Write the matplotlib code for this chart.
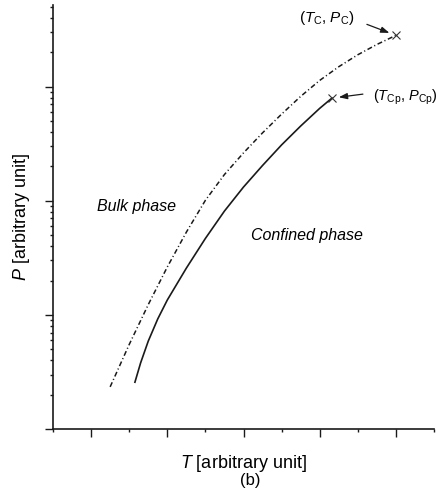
import numpy as np
import matplotlib
matplotlib.use("Agg")
import matplotlib.pyplot as plt
from matplotlib.ticker import LogLocator, MultipleLocator, NullFormatter

plt.rcParams['font.family'] = ['Liberation Sans', 'DejaVu Sans']
plt.rcParams['mathtext.fontset'] = 'custom'
plt.rcParams['mathtext.rm'] = 'Liberation Sans'
plt.rcParams['mathtext.it'] = 'Liberation Sans:italic'
plt.rcParams['lines.scale_dashes'] = False

# bulk coexistence curve (dash-dot)
bulk_T = [1.5, 2.0, 2.5, 3.0, 3.5, 4.0, 4.5, 5.0, 5.5, 6.0, 6.5, 7.0, 7.5, 8.0, 8.5, 9.0]
bulk_P = [2.34, 5.50, 12.3, 26.3, 53.1, 101, 170, 263, 394, 575, 822, 1135, 1496, 1905, 2344, 2818]

# confined coexistence curve (solid)
conf_T = [2.15, 2.3, 2.5, 2.75, 3.0, 3.5, 4.0, 4.5, 5.0, 5.5, 6.0, 6.5, 7.0, 7.32]
conf_P = [2.57, 3.80, 5.89, 9.23, 13.5, 25.7, 46.8, 81.3, 132, 204, 309, 452, 646, 794]

# critical points = curve ends
Tc, Pc = bulk_T[-1], bulk_P[-1]
Tcp, Pcp = conf_T[-1], conf_P[-1]

fig = plt.figure(figsize=(4.36, 4.91), dpi=100)
ax = fig.add_axes([53 / 436, 1 - 429 / 491, 381 / 436, 424 / 491])

ink = '#1a1a1a'
ax.plot(bulk_T, bulk_P, color=ink, lw=1.1, linestyle=(0, (3.6, 1.9, 0.8, 1.9)))
ax.plot(conf_T, conf_P, color=ink, lw=1.2)
ax.plot([Tc, Tcp], [Pc, Pcp], 'x', color='#333333', ms=6, mew=0.8)

ax.set_yscale('log')
ax.set_xlim(0, 10)
ax.set_ylim(1, 5200)

ax.xaxis.set_major_locator(MultipleLocator(2, offset=1))
ax.xaxis.set_minor_locator(MultipleLocator(2))
ax.yaxis.set_major_locator(LogLocator(base=10, numticks=10))
ax.yaxis.set_minor_locator(LogLocator(base=10, subs=np.arange(2, 10), numticks=20))
ax.xaxis.set_major_formatter(NullFormatter())
ax.yaxis.set_major_formatter(NullFormatter())
ax.yaxis.set_minor_formatter(NullFormatter())

for s in ['top', 'right']:
    ax.spines[s].set_visible(False)
for s in ['left', 'bottom']:
    ax.spines[s].set_linewidth(1.2)
    ax.spines[s].set_color(ink)
ax.tick_params(which='major', direction='out', length=5.5, width=1.0, color=ink)
ax.tick_params(which='minor', direction='out', length=2.5, width=1.0, color=ink)

ax.set_xlabel('$T$ [arbitrary unit]', fontsize=13, labelpad=8)
ax.set_ylabel('$P$ [arbitrary unit]', fontsize=13, labelpad=6)
fig.text(250 / 436, 1 - 481 / 491, '(b)', fontsize=12, ha='center', va='center')

ax.text(2.2, 89, 'Bulk phase', fontsize=11.5, style='italic', ha='center', va='center')
ax.text(6.67, 50, 'Confined phase', fontsize=11.5, style='italic', ha='center', va='center')

arrow = dict(arrowstyle='-|>,head_length=0.5,head_width=0.18', color=ink, lw=0.9,
             shrinkA=0, shrinkB=5)
ax.annotate('', xy=(Tc, Pc), xytext=(-29, 11), textcoords='offset pixels', arrowprops=arrow)
ax.annotate(r'($T_{\rm C}$, $P_{\rm C}$)', xy=(Tc, Pc), xytext=(-69, 17),
            textcoords='offset pixels', ha='center', va='center', fontsize=11)
ax.annotate('', xy=(Tcp, Pcp), xytext=(31, 4), textcoords='offset pixels', arrowprops=arrow)
ax.annotate(r'($T_{\rm Cp}$, $P_{\rm Cp}$)', xy=(Tcp, Pcp), xytext=(41, 1),
            textcoords='offset pixels', ha='left', va='center', fontsize=10.5)

fig.savefig('out.png', dpi=100)
